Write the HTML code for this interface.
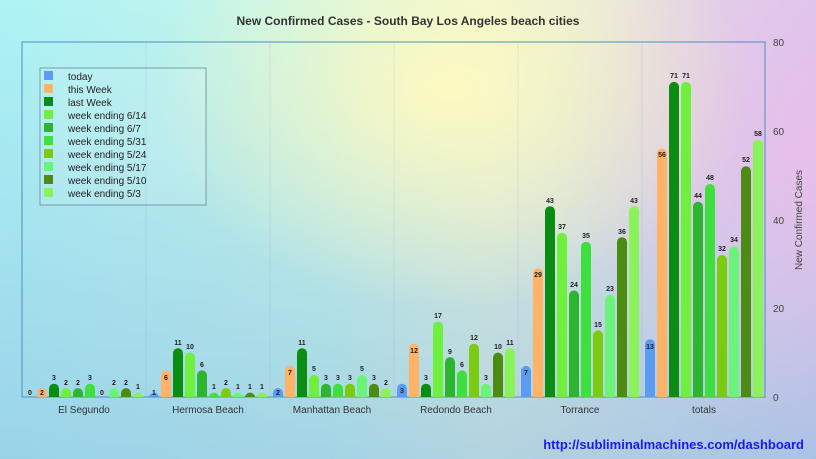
<!DOCTYPE html>
<html><head><meta charset="utf-8"><style>
body{margin:0;width:816px;height:459px;overflow:hidden;font-family:"Liberation Sans",sans-serif}
.bg{position:absolute;left:0;top:0;width:816px;height:459px;
background:
radial-gradient(ellipse 300px 220px at 450px 90px,rgba(255,250,190,0.95),rgba(255,250,190,0) 100%),
radial-gradient(ellipse 260px 300px at 816px 150px,rgba(235,190,235,0.9),rgba(235,190,235,0) 100%),
linear-gradient(180deg,rgba(170,240,245,0) 0%,rgba(140,190,225,0.6) 100%),
linear-gradient(90deg,#aef3f5 0%,#c8f6ea 40%,#eaf4dd 60%,#d9c9ec 100%);}
svg{position:absolute;left:0;top:0}
.c0{fill:#5b9cf2}.c1{fill:#ffb366}.c2{fill:#0b8c12}.c3{fill:#6ff03e}.c4{fill:#2db532}.c5{fill:#3de03f}.c6{fill:#7acc10}.c7{fill:#6af57a}.c8{fill:#4c8c12}.c9{fill:#8af35a}
text.v{font-size:7px;font-weight:bold;fill:#222;text-anchor:middle}
</style></head><body><div class="bg"></div>
<svg width="816" height="459">
<defs><clipPath id="cp"><rect x="0" y="0" width="816" height="397"/></clipPath></defs>
<text x="408" y="25" font-size="12" font-weight="bold" fill="#333" text-anchor="middle">New Confirmed Cases - South Bay Los Angeles beach cities</text>
<rect x="22" y="42" width="743" height="355" fill="none" stroke="#4a90c0" stroke-width="1"/>
<g stroke="#9ac" stroke-width="0.4" opacity="0.6"><line x1="146" y1="42" x2="146" y2="397"/><line x1="270" y1="42" x2="270" y2="397"/><line x1="394" y1="42" x2="394" y2="397"/><line x1="518" y1="42" x2="518" y2="397"/><line x1="642" y1="42" x2="642" y2="397"/></g>
<g font-size="10" fill="#444"><text x="773" y="46">80</text><text x="773" y="135">60</text><text x="773" y="224">40</text><text x="773" y="312">20</text><text x="773" y="401">0</text></g>
<text transform="translate(802,220) rotate(-90)" font-size="10" fill="#444" text-anchor="middle">New Confirmed Cases</text>
<g font-size="10" fill="#333" text-anchor="middle"><text x="84" y="413">El Segundo</text><text x="208" y="413">Hermosa Beach</text><text x="332" y="413">Manhattan Beach</text><text x="456" y="413">Redondo Beach</text><text x="580" y="413">Torrance</text><text x="704" y="413">totals</text></g>
<g clip-path="url(#cp)">
<g transform="translate(22,0)">
<text class="v" x="8" y="395">0</text>
<rect class="c1" x="15" y="388.1" width="10" height="15" rx="5"/><text class="v" x="20" y="395">2</text>
<rect class="c2" x="27" y="383.7" width="10" height="19" rx="5"/><text class="v" x="32" y="380">3</text>
<rect class="c3" x="39" y="388.1" width="10" height="15" rx="5"/><text class="v" x="44" y="385">2</text>
<rect class="c4" x="51" y="388.1" width="10" height="15" rx="5"/><text class="v" x="56" y="385">2</text>
<rect class="c5" x="63" y="383.7" width="10" height="19" rx="5"/><text class="v" x="68" y="380">3</text>
<text class="v" x="80" y="395">0</text>
<rect class="c7" x="87" y="388.1" width="10" height="15" rx="5"/><text class="v" x="92" y="385">2</text>
<rect class="c8" x="99" y="388.1" width="10" height="15" rx="5"/><text class="v" x="104" y="385">2</text>
<rect class="c9" x="111" y="392.6" width="10" height="15" rx="5"/><text class="v" x="116" y="389">1</text>
</g>
<g transform="translate(146,0)">
<rect class="c0" x="3" y="392.6" width="10" height="15" rx="5"/><text class="v" x="8" y="395">1</text>
<rect class="c1" x="15" y="370.4" width="10" height="32" rx="5"/><text class="v" x="20" y="380">6</text>
<rect class="c2" x="27" y="348.2" width="10" height="55" rx="5"/><text class="v" x="32" y="345">11</text>
<rect class="c3" x="39" y="352.6" width="10" height="50" rx="5"/><text class="v" x="44" y="349">10</text>
<rect class="c4" x="51" y="370.4" width="10" height="32" rx="5"/><text class="v" x="56" y="367">6</text>
<rect class="c5" x="63" y="392.6" width="10" height="15" rx="5"/><text class="v" x="68" y="389">1</text>
<rect class="c6" x="75" y="388.1" width="10" height="15" rx="5"/><text class="v" x="80" y="385">2</text>
<rect class="c7" x="87" y="392.6" width="10" height="15" rx="5"/><text class="v" x="92" y="389">1</text>
<rect class="c8" x="99" y="392.6" width="10" height="15" rx="5"/><text class="v" x="104" y="389">1</text>
<rect class="c9" x="111" y="392.6" width="10" height="15" rx="5"/><text class="v" x="116" y="389">1</text>
</g>
<g transform="translate(270,0)">
<rect class="c0" x="3" y="388.1" width="10" height="15" rx="5"/><text class="v" x="8" y="395">2</text>
<rect class="c1" x="15" y="365.9" width="10" height="37" rx="5"/><text class="v" x="20" y="375">7</text>
<rect class="c2" x="27" y="348.2" width="10" height="55" rx="5"/><text class="v" x="32" y="345">11</text>
<rect class="c3" x="39" y="374.8" width="10" height="28" rx="5"/><text class="v" x="44" y="371">5</text>
<rect class="c4" x="51" y="383.7" width="10" height="19" rx="5"/><text class="v" x="56" y="380">3</text>
<rect class="c5" x="63" y="383.7" width="10" height="19" rx="5"/><text class="v" x="68" y="380">3</text>
<rect class="c6" x="75" y="383.7" width="10" height="19" rx="5"/><text class="v" x="80" y="380">3</text>
<rect class="c7" x="87" y="374.8" width="10" height="28" rx="5"/><text class="v" x="92" y="371">5</text>
<rect class="c8" x="99" y="383.7" width="10" height="19" rx="5"/><text class="v" x="104" y="380">3</text>
<rect class="c9" x="111" y="388.1" width="10" height="15" rx="5"/><text class="v" x="116" y="385">2</text>
</g>
<g transform="translate(394,0)">
<rect class="c0" x="3" y="383.7" width="10" height="19" rx="5"/><text class="v" x="8" y="393">3</text>
<rect class="c1" x="15" y="343.7" width="10" height="59" rx="5"/><text class="v" x="20" y="353">12</text>
<rect class="c2" x="27" y="383.7" width="10" height="19" rx="5"/><text class="v" x="32" y="380">3</text>
<rect class="c3" x="39" y="321.6" width="10" height="81" rx="5"/><text class="v" x="44" y="318">17</text>
<rect class="c4" x="51" y="357.1" width="10" height="46" rx="5"/><text class="v" x="56" y="354">9</text>
<rect class="c5" x="63" y="370.4" width="10" height="32" rx="5"/><text class="v" x="68" y="367">6</text>
<rect class="c6" x="75" y="343.7" width="10" height="59" rx="5"/><text class="v" x="80" y="340">12</text>
<rect class="c7" x="87" y="383.7" width="10" height="19" rx="5"/><text class="v" x="92" y="380">3</text>
<rect class="c8" x="99" y="352.6" width="10" height="50" rx="5"/><text class="v" x="104" y="349">10</text>
<rect class="c9" x="111" y="348.2" width="10" height="55" rx="5"/><text class="v" x="116" y="345">11</text>
</g>
<g transform="translate(518,0)">
<rect class="c0" x="3" y="365.9" width="10" height="37" rx="5"/><text class="v" x="8" y="375">7</text>
<rect class="c1" x="15" y="268.3" width="10" height="135" rx="5"/><text class="v" x="20" y="277">29</text>
<rect class="c2" x="27" y="206.2" width="10" height="197" rx="5"/><text class="v" x="32" y="203">43</text>
<rect class="c3" x="39" y="232.8" width="10" height="170" rx="5"/><text class="v" x="44" y="229">37</text>
<rect class="c4" x="51" y="290.5" width="10" height="112" rx="5"/><text class="v" x="56" y="287">24</text>
<rect class="c5" x="63" y="241.7" width="10" height="161" rx="5"/><text class="v" x="68" y="238">35</text>
<rect class="c6" x="75" y="330.4" width="10" height="72" rx="5"/><text class="v" x="80" y="327">15</text>
<rect class="c7" x="87" y="294.9" width="10" height="108" rx="5"/><text class="v" x="92" y="291">23</text>
<rect class="c8" x="99" y="237.2" width="10" height="166" rx="5"/><text class="v" x="104" y="234">36</text>
<rect class="c9" x="111" y="206.2" width="10" height="197" rx="5"/><text class="v" x="116" y="203">43</text>
</g>
<g transform="translate(642,0)">
<rect class="c0" x="3" y="339.3" width="10" height="64" rx="5"/><text class="v" x="8" y="349">13</text>
<rect class="c1" x="15" y="148.5" width="10" height="255" rx="5"/><text class="v" x="20" y="157">56</text>
<rect class="c2" x="27" y="81.9" width="10" height="321" rx="5"/><text class="v" x="32" y="78">71</text>
<rect class="c3" x="39" y="81.9" width="10" height="321" rx="5"/><text class="v" x="44" y="78">71</text>
<rect class="c4" x="51" y="201.7" width="10" height="201" rx="5"/><text class="v" x="56" y="198">44</text>
<rect class="c5" x="63" y="184" width="10" height="219" rx="5"/><text class="v" x="68" y="180">48</text>
<rect class="c6" x="75" y="255" width="10" height="148" rx="5"/><text class="v" x="80" y="251">32</text>
<rect class="c7" x="87" y="246.1" width="10" height="157" rx="5"/><text class="v" x="92" y="242">34</text>
<rect class="c8" x="99" y="166.2" width="10" height="237" rx="5"/><text class="v" x="104" y="162">52</text>
<rect class="c9" x="111" y="139.6" width="10" height="263" rx="5"/><text class="v" x="116" y="136">58</text>
</g>
</g>
<rect x="40" y="68" width="166" height="137" fill="rgba(255,255,255,0.1)" stroke="#6a8a9a" stroke-width="0.8"/>
<g font-size="10" fill="#222">
<rect class="c0" x="44" y="71" width="9" height="9"/><text x="68" y="80">today</text>
<rect class="c1" x="44" y="84" width="9" height="9"/><text x="68" y="93">this Week</text>
<rect class="c2" x="44" y="97" width="9" height="9"/><text x="68" y="106">last Week</text>
<rect class="c3" x="44" y="110" width="9" height="9"/><text x="68" y="119">week ending 6/14</text>
<rect class="c4" x="44" y="123" width="9" height="9"/><text x="68" y="132">week ending 6/7</text>
<rect class="c5" x="44" y="136" width="9" height="9"/><text x="68" y="145">week ending 5/31</text>
<rect class="c6" x="44" y="149" width="9" height="9"/><text x="68" y="158">week ending 5/24</text>
<rect class="c7" x="44" y="162" width="9" height="9"/><text x="68" y="171">week ending 5/17</text>
<rect class="c8" x="44" y="175" width="9" height="9"/><text x="68" y="184">week ending 5/10</text>
<rect class="c9" x="44" y="188" width="9" height="9"/><text x="68" y="197">week ending 5/3</text>
</g>
<text x="804" y="449" font-size="13" font-weight="bold" fill="#1a1aee" text-anchor="end">http://subliminalmachines.com/dashboard</text>
</svg></body></html>
